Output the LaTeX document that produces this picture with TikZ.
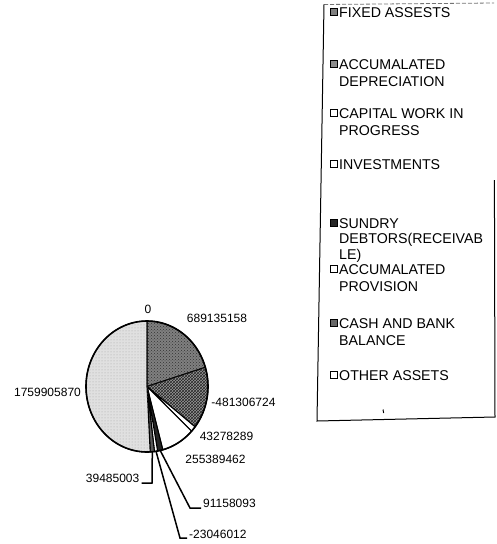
\documentclass[tikz,border=0pt]{standalone}
\usepackage{fontspec}
\setmainfont{Liberation Sans}
\usetikzlibrary{patterns}
\begin{document}
\begin{tikzpicture}[x=1pt,y=-1pt,
  slice/.style={draw=black, line width=1.1pt, line join=round},
  lab/.style={font=\fontsize{12}{14}\selectfont, inner xsep=2pt, inner ysep=0pt},
  legtext/.style={font=\fontsize{14.2}{17.5}\selectfont, inner sep=0pt, anchor=north west, align=left},
  legmark/.style={draw=black, line width=1.3pt, minimum size=6.5pt, inner sep=0pt},
  leader/.style={draw=black, line width=1.5pt},
  boxline/.style={draw=black, line width=1pt}]
\useasboundingbox (0,0) rectangle (497,544);

% ---------- pie ----------
\begin{scope}[shift={(147,386.5)}, y=1pt]
  % fixed assets
  \filldraw[slice, fill=black!50, postaction={pattern=crosshatch dots, pattern color=black!80}]
    (0,0) -- (90:61 and 65.5) arc[start angle=90, end angle=17, x radius=61, y radius=65.5] -- cycle;
  % accumulated depreciation
  \filldraw[slice, fill=black!40, postaction={pattern=crosshatch, pattern color=black!85}]
    (0,0) -- (17:61 and 65.5) arc[start angle=17, end angle=-38, x radius=61, y radius=65.5] -- cycle;
  % capital work in progress
  \filldraw[slice, fill=white]
    (0,0) -- (-38:61 and 65.5) arc[start angle=-38, end angle=-43, x radius=61, y radius=65.5] -- cycle;
  % investments
  \filldraw[slice, fill=white]
    (0,0) -- (-43:61 and 65.5) arc[start angle=-43, end angle=-75, x radius=61, y radius=65.5] -- cycle;
  % sundry debtors
  \filldraw[slice, fill=black!85]
    (0,0) -- (-75:61 and 65.5) arc[start angle=-75, end angle=-80, x radius=61, y radius=65.5] -- cycle;
  % accumulated provision
  \filldraw[slice, fill=white]
    (0,0) -- (-80:61 and 65.5) arc[start angle=-80, end angle=-83, x radius=61, y radius=65.5] -- cycle;
  % cash and bank
  \filldraw[slice, fill=black!65]
    (0,0) -- (-83:61 and 65.5) arc[start angle=-83, end angle=-87, x radius=61, y radius=65.5] -- cycle;
  % other assets
  \filldraw[slice, fill=black!12, postaction={pattern=dots, pattern color=black!35}]
    (0,0) -- (-87:61 and 65.5) arc[start angle=-87, end angle=-270, x radius=61, y radius=65.5] -- cycle;
  \draw[line width=1.6pt] (0,0) ellipse[x radius=61, y radius=65.5];
  \coordinate (e-sun) at (-77.5:61 and 65.5);
  \coordinate (e-prov) at (-81.5:61 and 65.5);
  \coordinate (e-cash) at (-85:61 and 65.5);
\end{scope}

% ---------- pie labels ----------
\node[lab] (l-zero) at (148,309) {0};
\node[lab] (l-fix) at (217,318.5) {689135158};
\node[lab] (l-dep) at (243.5,402) {-481306724};
\node[lab] (l-cwip) at (226.5,436.5) {43278289};
\node[lab] (l-inv) at (215.5,459) {255389462};
\node[lab] (l-oth) at (47.5,392.5) {1759905870};
\node[lab, anchor=base east] (l-cash) at (141.5,482) {39485003};
\node[lab, anchor=base west] (l-sun) at (201,507) {91158093};
\node[lab, anchor=base west] (l-prov) at (187,538.5) {-23046012};

\coordinate (b-cash) at (152,483);
\coordinate (b-sun) at (190,508);
\coordinate (b-prov) at (180,538);
\draw[leader] (e-cash) -- (b-cash) -- (l-cash.east |- b-cash);
\draw[leader] (e-sun) -- (b-sun) -- (l-sun.west |- b-sun);
\draw[leader] (e-prov) -- (b-prov) -- (l-prov.west |- b-prov);

% ---------- legend box ----------
\coordinate (bx-tl) at (324,4.5);
\coordinate (bx-tr) at (494,3);
\coordinate (bx-bl) at (317,421);
\coordinate (bx-br) at (495,417);
\coordinate (bx-rt) at (494.4,180);
\draw[draw=black!55, line width=0.8pt, dash pattern=on 4pt off 2pt] (bx-tl) -- (bx-tr);
\draw[boxline] (bx-tl) -- (bx-bl) -- (bx-br) -- (bx-rt);
\coordinate (tk1) at (383,409.5);
\coordinate (tk2) at (383.6,413);
\draw[line width=1pt] (tk1) -- (tk2);

% ---------- legend entries ----------
\node[legmark, fill=black!50] (m1) at (334,12) {};
\node[legtext] (t1) at (339,7) {FIXED ASSESTS};
\node[legmark, fill=black!45] (m2) at (334,64) {};
\node[legtext] (t2) at (339,59) {ACCUMALATED\\DEPRECIATION};
\node[legmark, fill=white] (m3) at (334,113) {};
\node[legtext] (t3) at (339,108) {CAPITAL WORK IN\\PROGRESS};
\node[legmark, fill=white] (m4) at (334,164) {};
\node[legtext] (t4) at (339,159) {INVESTMENTS};
\node[legmark, fill=black!85] (m5) at (334,223) {};
\node[legtext, font=\fontsize{14.2}{15.5}\selectfont] (t5) at (339,218) {SUNDRY\\DEBTORS(RECEIVAB\\LE)};
\node[legmark, fill=white] (m6) at (334,269) {};
\node[legtext] (t6) at (339,264) {ACCUMALATED\\PROVISION};
\node[legmark, fill=black!60] (m7) at (334,323) {};
\node[legtext] (t7) at (339,318) {CASH AND BANK\\BALANCE};
\node[legmark, fill=white] (m8) at (334,375) {};
\node[legtext] (t8) at (339,370) {OTHER ASSETS};
\end{tikzpicture}
\end{document}
